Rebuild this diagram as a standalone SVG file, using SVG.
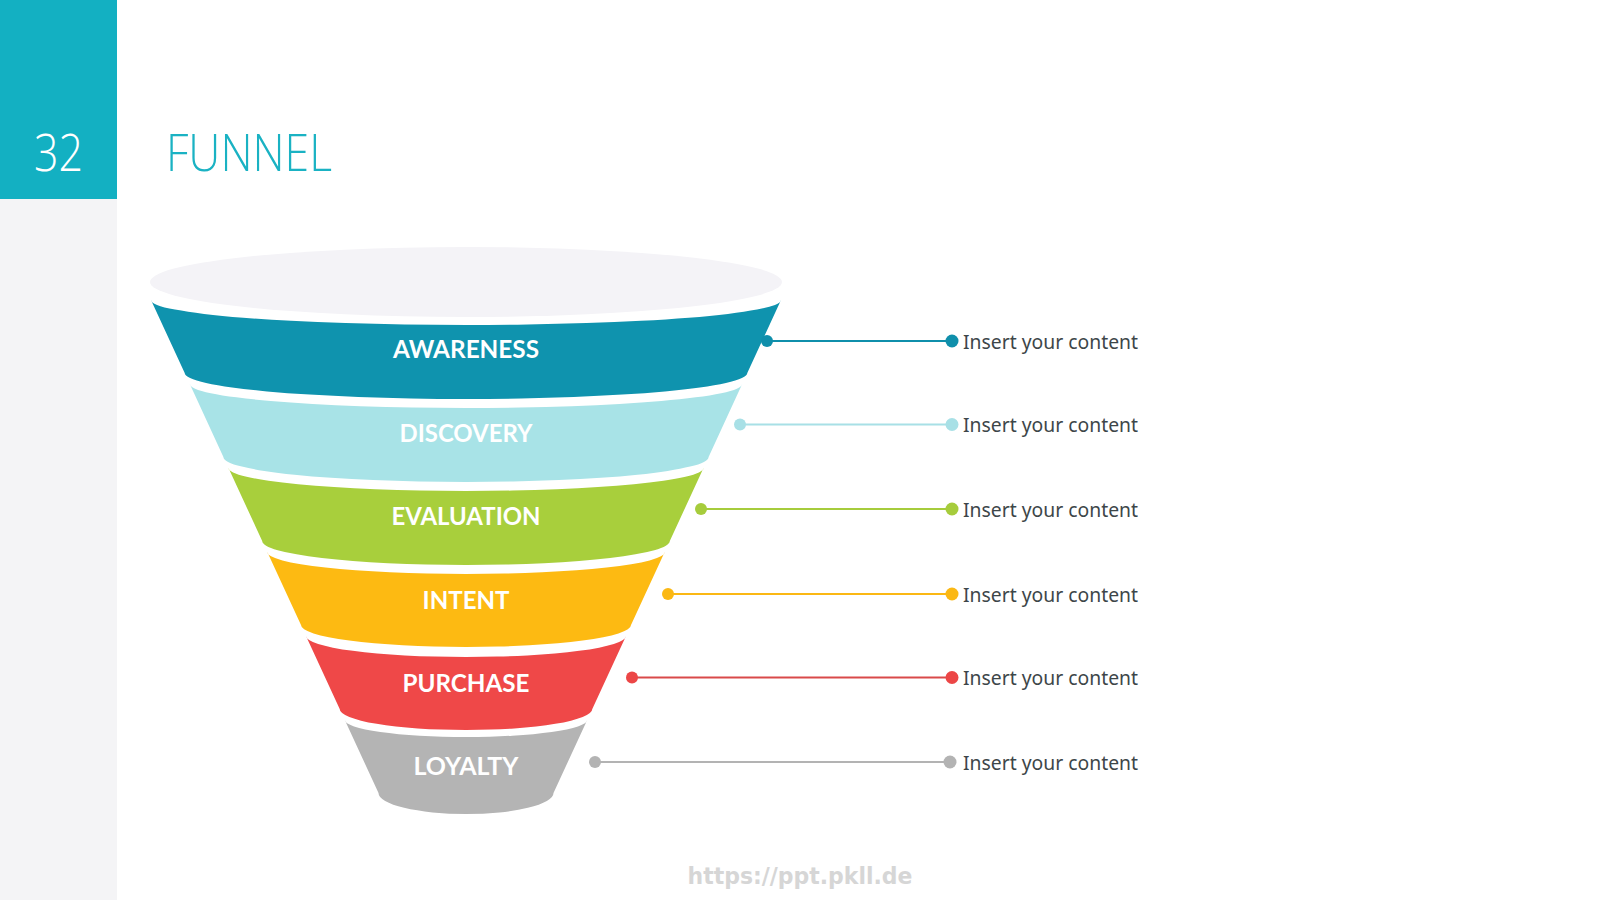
<svg xmlns="http://www.w3.org/2000/svg" width="1600" height="900" viewBox="0 0 1600 900">
<style>
.band-label{font-family:Lato,"Liberation Sans",sans-serif;font-weight:700;font-size:25px;fill:#ffffff;text-anchor:middle}
.content{font-family:"Noto Sans","Liberation Sans",sans-serif;font-size:19.6px;fill:#3d4649}
.title{font-family:"Open Sans","Liberation Sans",sans-serif;font-weight:300}
</style>
<rect x="0" y="0" width="1600" height="900" fill="#ffffff"/>
<rect x="0" y="199" width="117" height="701" fill="#f4f4f6"/>
<rect x="0" y="0" width="117" height="199" fill="#13b0c2"/>
<text class="title" x="34" y="171" font-size="52" fill="#ffffff" textLength="49" lengthAdjust="spacingAndGlyphs">32</text>
<text class="title" x="166" y="171" font-size="52" fill="#1ab2c3" textLength="166" lengthAdjust="spacingAndGlyphs">FUNNEL</text>

<g id="funnel-top">
<ellipse cx="466" cy="282" rx="316" ry="35" fill="#f4f3f7"/>
</g>

<g id="awareness">
<path d="M151,300 A315,25 0 0 0 781,300 L747.3,373 A281.3,26 0 0 1 184.7,373 Z" fill="#0f93ae"/>
<text class="band-label" x="466" y="358" textLength="146" lengthAdjust="spacingAndGlyphs">AWARENESS</text>
<text class="content" x="963" y="349" textLength="175" lengthAdjust="spacingAndGlyphs">Insert your content</text>
</g>
<g id="discovery">
<path d="M189.8,384 A276.2,24 0 0 0 742.2,384 L708.6,457 A242.6,25 0 0 1 223.4,457 Z" fill="#a8e3e7"/>
<text class="band-label" x="466" y="442" textLength="133" lengthAdjust="spacingAndGlyphs">DISCOVERY</text>
<text class="content" x="963" y="432" textLength="175" lengthAdjust="spacingAndGlyphs">Insert your content</text>
</g>
<g id="evaluation">
<path d="M228.5,468 A237.5,23 0 0 0 703.5,468 L669.8,541 A203.8,24 0 0 1 262.2,541 Z" fill="#a8cf3c"/>
<text class="band-label" x="466" y="525" textLength="149" lengthAdjust="spacingAndGlyphs">EVALUATION</text>
<text class="content" x="963" y="517" textLength="175" lengthAdjust="spacingAndGlyphs">Insert your content</text>
</g>
<g id="intent">
<path d="M267.3,552 A198.7,22 0 0 0 664.7,552 L631,625 A165,22 0 0 1 301,625 Z" fill="#fdba12"/>
<text class="band-label" x="466" y="609" textLength="87" lengthAdjust="spacingAndGlyphs">INTENT</text>
<text class="content" x="963" y="602" textLength="175" lengthAdjust="spacingAndGlyphs">Insert your content</text>
</g>
<g id="purchase">
<path d="M306,636 A160,21 0 0 0 626,636 L592.3,709 A126.3,21 0 0 1 339.7,709 Z" fill="#ef4848"/>
<text class="band-label" x="466" y="692" textLength="127" lengthAdjust="spacingAndGlyphs">PURCHASE</text>
<text class="content" x="963" y="685" textLength="175" lengthAdjust="spacingAndGlyphs">Insert your content</text>
</g>
<g id="loyalty">
<path d="M344.8,720 A121.2,17 0 0 0 587.2,720 L553.5,793 A87.5,21 0 0 1 378.5,793 Z" fill="#b4b4b4"/>
<text class="band-label" x="466" y="775" textLength="105" lengthAdjust="spacingAndGlyphs">LOYALTY</text>
<text class="content" x="963" y="770" textLength="175" lengthAdjust="spacingAndGlyphs">Insert your content</text>
</g>

<g id="connectors" stroke-width="2">
<line x1="767" y1="341" x2="952" y2="341" stroke="#0f8fab"/>
<circle cx="767" cy="341" r="6" fill="#0f8fab"/>
<circle cx="952" cy="341" r="6.5" fill="#0f8fab"/>
<line x1="740" y1="424.5" x2="952" y2="424.5" stroke="#a8e0e6"/>
<circle cx="740" cy="424.5" r="6" fill="#a8e0e6"/>
<circle cx="952" cy="424.5" r="6.5" fill="#a8e0e6"/>
<line x1="701" y1="509" x2="952" y2="509" stroke="#a6cc3c"/>
<circle cx="701" cy="509" r="6" fill="#a6cc3c"/>
<circle cx="952" cy="509" r="6.5" fill="#a6cc3c"/>
<line x1="668" y1="594" x2="952" y2="594" stroke="#fbb814"/>
<circle cx="668" cy="594" r="6" fill="#fbb814"/>
<circle cx="952" cy="594" r="6.5" fill="#fbb814"/>
<line x1="632" y1="677.5" x2="952" y2="677.5" stroke="#d94a4a"/>
<circle cx="632" cy="677.5" r="6" fill="#ec4646"/>
<circle cx="952" cy="677.5" r="6.5" fill="#ec4646"/>
<line x1="595" y1="762" x2="950" y2="762" stroke="#b3b3b3"/>
<circle cx="595" cy="762" r="6" fill="#b3b3b3"/>
<circle cx="950" cy="762" r="6.5" fill="#b3b3b3"/>
</g>

<text x="800" y="884" font-family="'DejaVu Sans','Liberation Sans',sans-serif" font-weight="700" font-size="23" fill="#d6d6d6" text-anchor="middle" textLength="225" lengthAdjust="spacingAndGlyphs">https://ppt.pkll.de</text>
</svg>
